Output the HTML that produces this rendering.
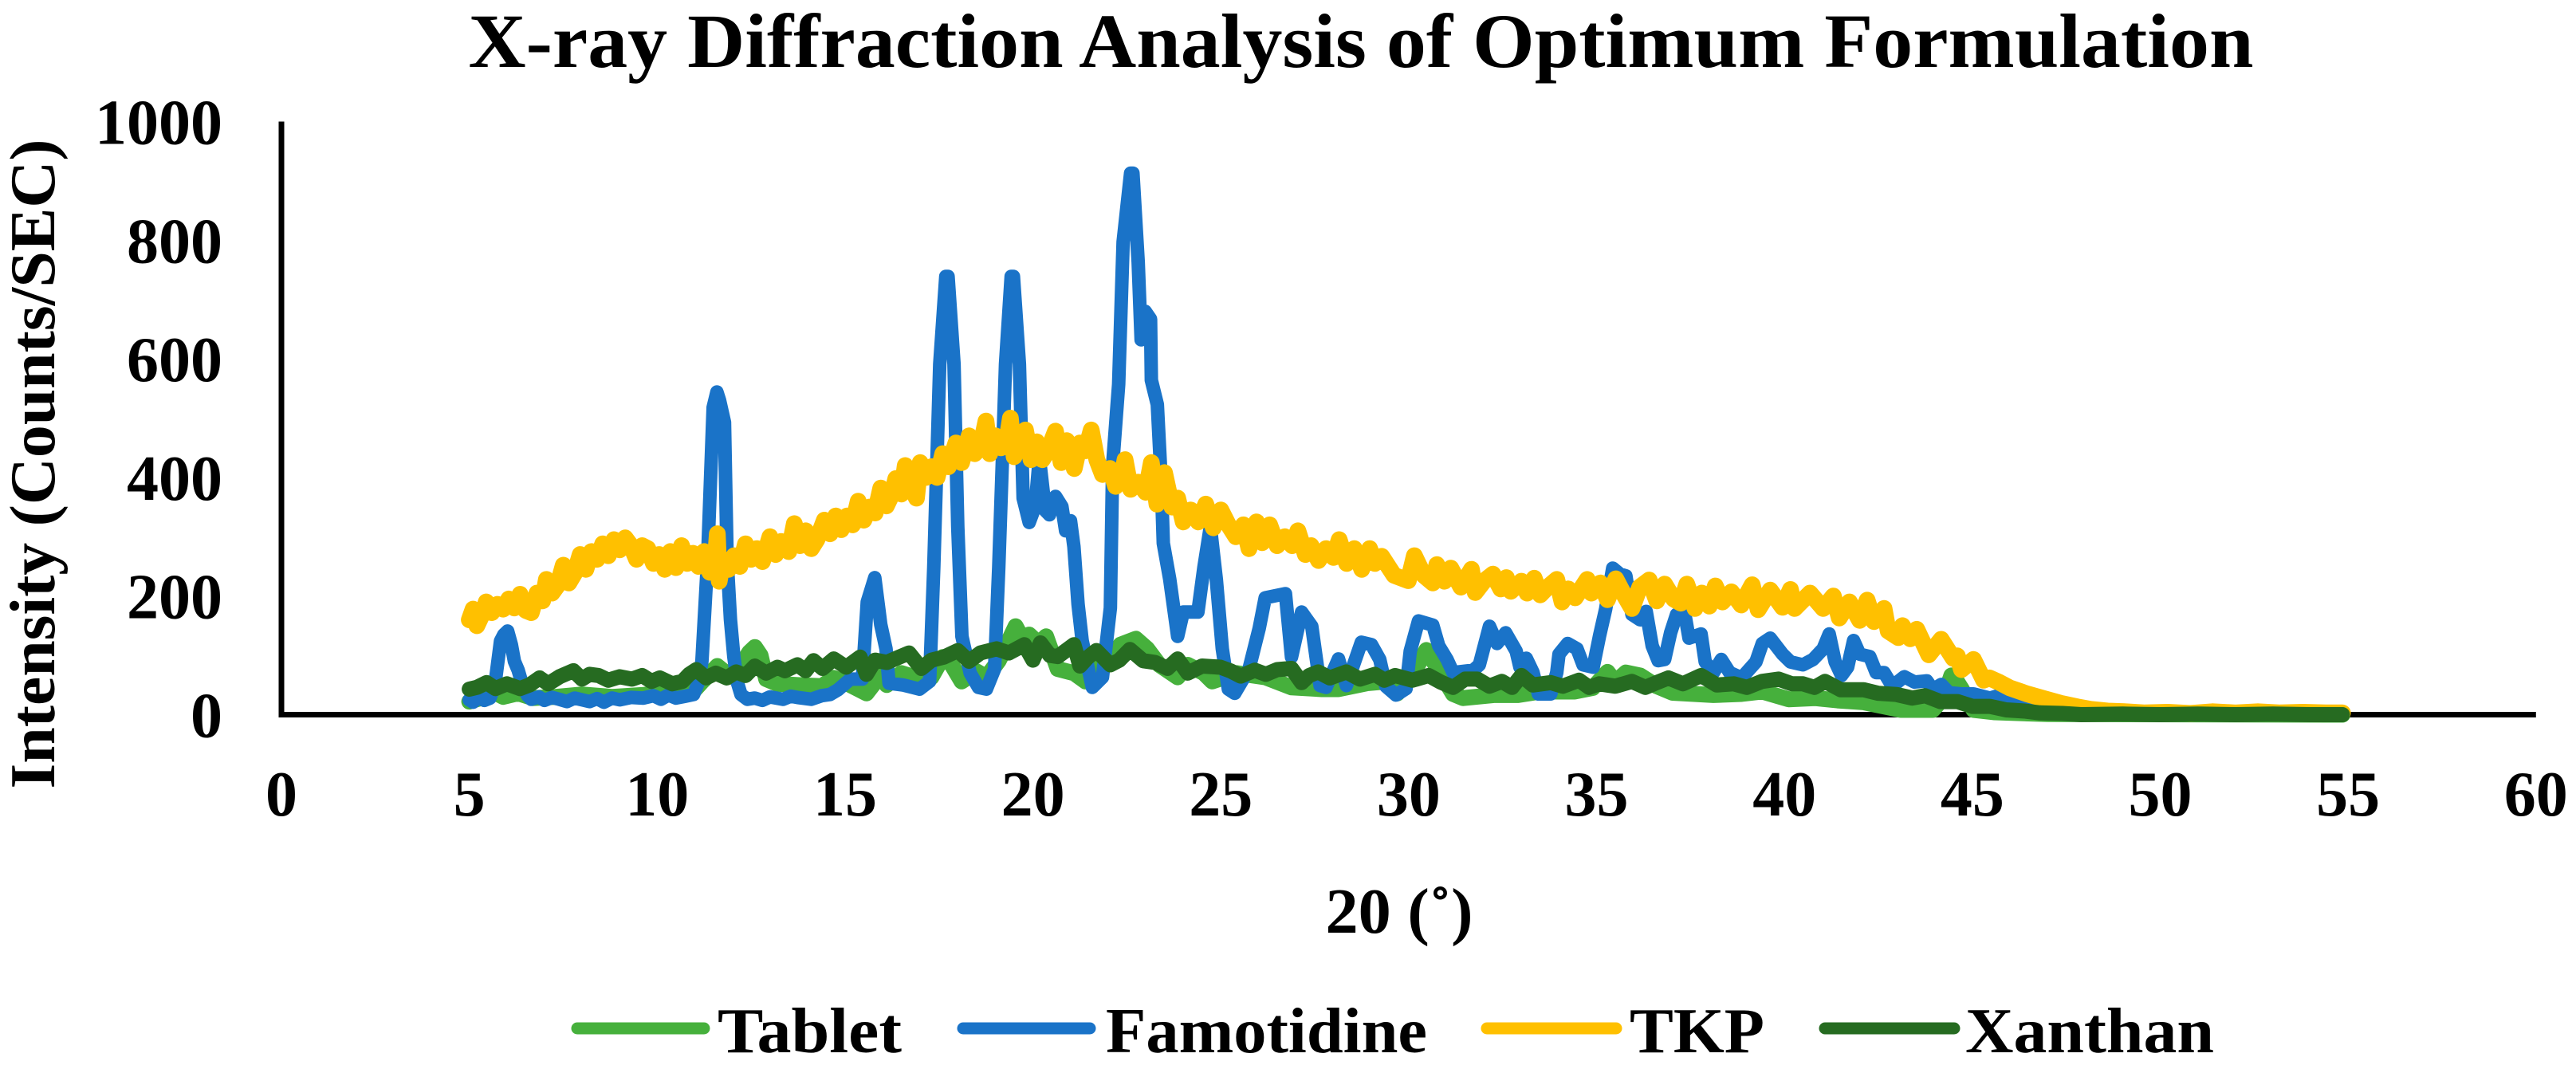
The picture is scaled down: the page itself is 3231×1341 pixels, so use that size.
<!DOCTYPE html>
<html lang="en">
<head>
<meta charset="utf-8">
<title>X-ray Diffraction Analysis of Optimum Formulation</title>
<style>
html,body{margin:0;padding:0;background:#fff;width:3231px;height:1341px;overflow:hidden}
svg{display:block}
text{font-family:"Liberation Serif","Times New Roman",serif;font-weight:bold;fill:#000}
</style>
</head>
<body>
<svg id="chart" xmlns="http://www.w3.org/2000/svg" width="3231" height="1341" viewBox="0 0 3231 1341">
  <rect width="3231" height="1341" fill="#fff"/>
  <text x="1707" y="84" font-size="96" text-anchor="middle" textLength="2239" lengthAdjust="spacingAndGlyphs">X-ray Diffraction Analysis of Optimum Formulation</text>
  <text transform="translate(68,582) rotate(-90)" font-size="80" text-anchor="middle" textLength="815" lengthAdjust="spacingAndGlyphs">Intensity (Counts/SEC)</text>
  <text x="1755" y="1170" font-size="80" text-anchor="middle" textLength="185" lengthAdjust="spacingAndGlyphs">20 (˚)</text>
  <g id="ticks"></g>
  <g id="series"></g>
  <g id="axes"></g>
  <g>
    <g>
      <line x1="724" x2="883" y1="1290" y2="1290" stroke="#46B03C" stroke-width="15" stroke-linecap="round"/>
      <text x="900" y="1320" font-size="80" textLength="231" lengthAdjust="spacingAndGlyphs">Tablet</text>
    </g>
    <g>
      <line x1="1208" x2="1367" y1="1290" y2="1290" stroke="#1A73C8" stroke-width="15" stroke-linecap="round"/>
      <text x="1387" y="1320" font-size="80" textLength="403" lengthAdjust="spacingAndGlyphs">Famotidine</text>
    </g>
    <g>
      <line x1="1865" x2="2027" y1="1290" y2="1290" stroke="#FFC000" stroke-width="15" stroke-linecap="round"/>
      <text x="2044" y="1320" font-size="80" textLength="169" lengthAdjust="spacingAndGlyphs">TKP</text>
    </g>
    <g>
      <line x1="2289" x2="2451" y1="1290" y2="1290" stroke="#266B21" stroke-width="15" stroke-linecap="round"/>
      <text x="2465" y="1320" font-size="80" textLength="312" lengthAdjust="spacingAndGlyphs">Xanthan</text>
    </g>
  </g>
</svg>
<script>
const xTickLabels = [0,5,10,15,20,25,30,35,40,45,50,55,60];
const yTickLabels = [0,200,400,600,800,1000];

// Each entry is [2-theta in degrees, intensity in counts/sec]
const tablet = [[5,22],[5.3,28],[5.6,40],[5.9,30],[6.3,36],[6.7,28],[7.3,30],[8,34],[8.8,30],[9.6,33],[10.3,38],[10.97,40],[11.2,56],[11.6,82],[11.95,64],[12.2,80],[12.45,105],[12.6,114],[12.75,100],[12.9,60],[13.2,52],[13.73,50],[14.38,48],[14.7,62],[15.14,50],[15.57,36],[15.8,55],[16,77],[16.11,50],[16.5,70],[16.9,62],[17.3,63],[17.6,97],[17.84,84],[18.1,56],[18.5,73],[18.76,63],[19.09,91],[19.36,125],[19.54,149],[19.7,130],[19.9,135],[20.15,120],[20.35,132],[20.66,77],[21.09,70],[21.4,56],[21.69,77],[22.06,91],[22.33,118],[22.74,128],[23.04,111],[23.36,84],[23.85,63],[24.12,84],[24.55,70],[24.77,56],[25.42,70],[26.18,63],[26.88,46],[27.69,43],[28.13,43],[28.89,53],[29.43,56],[29.7,36],[30.18,77],[30.47,109],[30.8,75],[31.18,35],[31.45,28],[32.26,33],[32.91,33],[33.5,39],[34.42,39],[34.9,45],[35.29,72],[35.5,55],[35.78,71],[36.16,66],[36.6,48],[37.02,37],[38.11,33],[38.86,35],[39.41,39],[40.11,26],[40.81,28],[41.41,24],[42.11,21],[43.09,8],[43.95,8],[44.25,30],[44.44,66],[44.6,55],[44.71,44],[45.03,8],[45.6,4],[47,1],[54.85,0]];

const famotidine = [[5,25],[5.1,21],[5.25,30],[5.4,24],[5.55,28],[5.68,50],[5.83,124],[5.92,135],[6.02,141],[6.12,118],[6.2,90],[6.3,75],[6.43,47],[6.55,32],[6.65,26],[6.85,30],[7,24],[7.2,29],[7.39,26],[7.6,22],[7.8,28],[8,25],[8.2,22],[8.4,27],[8.58,21],[8.8,28],[9,25],[9.3,29],[9.63,28],[9.9,32],[10.1,26],[10.3,33],[10.5,28],[10.75,31],[10.97,34],[11.1,55],[11.19,90],[11.34,261],[11.49,518],[11.59,544],[11.66,530],[11.79,493],[11.86,261],[11.95,160],[12.04,98],[12.13,55],[12.23,34],[12.4,26],[12.6,28],[12.8,24],[13,30],[13.35,26],[13.55,31],[13.73,29],[14.1,26],[14.38,32],[14.6,34],[14.81,42],[15.14,60],[15.46,60],[15.59,190],[15.79,231],[15.95,152],[16.09,111],[16.17,53],[16.54,50],[16.98,43],[17.25,56],[17.36,248],[17.52,591],[17.68,739],[17.74,739],[17.9,591],[18,317],[18.11,132],[18.33,70],[18.55,46],[18.76,43],[18.98,77],[19.09,248],[19.2,454],[19.27,591],[19.42,739],[19.48,739],[19.64,591],[19.74,365],[19.9,324],[20.06,351],[20.17,433],[20.33,344],[20.44,337],[20.6,368],[20.77,351],[20.87,310],[21,327],[21.09,283],[21.2,186],[21.31,125],[21.58,46],[21.85,63],[22.06,180],[22.12,420],[22.28,557],[22.4,797],[22.6,913],[22.66,913],[22.8,763],[22.88,632],[22.99,680],[23.13,667],[23.15,564],[23.31,523],[23.42,385],[23.47,289],[23.64,228],[23.85,132],[24,173],[24.39,173],[24.55,248],[24.72,317],[24.88,228],[25.04,111],[25.2,43],[25.37,36],[25.75,77],[26.02,145],[26.18,197],[26.72,204],[26.88,97],[27.15,173],[27.42,149],[27.64,49],[27.8,46],[28.13,94],[28.34,49],[28.74,122],[29.01,118],[29.23,93],[29.39,48],[29.66,33],[29.93,44],[30.04,107],[30.26,158],[30.64,151],[30.8,116],[31.02,93],[31.18,71],[31.72,75],[31.88,84],[32.15,149],[32.35,120],[32.58,138],[32.86,107],[32.96,80],[33.13,95],[33.31,71],[33.45,35],[33.78,35],[33.94,71],[34,102],[34.23,120],[34.48,111],[34.64,84],[34.91,80],[35.08,133],[35.24,178],[35.43,247],[35.62,237],[35.78,234],[35.94,169],[36.16,160],[36.32,174],[36.48,116],[36.64,91],[36.81,93],[36.97,138],[37.13,169],[37.35,169],[37.46,129],[37.78,136],[37.89,89],[38.11,71],[38.32,93],[38.54,71],[38.86,62],[39.24,89],[39.41,120],[39.62,129],[39.95,102],[40.16,89],[40.49,84],[40.76,93],[41.03,111],[41.19,136],[41.35,89],[41.52,66],[41.68,80],[41.84,125],[42,102],[42.27,98],[42.44,71],[42.65,71],[42.87,48],[43.19,64],[43.46,55],[43.79,57],[43.95,42],[44.17,51],[44.38,37],[44.71,35],[45.03,35],[45.47,28],[45.68,32],[46.13,17],[46.8,8],[47.9,1],[49,2],[50,1],[51,2],[52,1],[53,2],[54,1],[54.85,1]];

const tkp = [[5,160],[5.1,178],[5.2,150],[5.35,170],[5.45,190],[5.6,172],[5.75,186],[5.9,178],[6.05,195],[6.2,180],[6.35,203],[6.5,176],[6.65,172],[6.8,205],[6.95,192],[7.05,228],[7.2,205],[7.35,218],[7.5,252],[7.65,222],[7.8,238],[7.95,270],[8.1,245],[8.25,275],[8.4,262],[8.55,288],[8.7,268],[8.85,295],[9,278],[9.15,298],[9.3,285],[9.45,262],[9.6,285],[9.75,280],[9.9,255],[10.05,270],[10.2,245],[10.35,275],[10.5,248],[10.65,285],[10.8,255],[10.95,272],[11.1,250],[11.25,275],[11.4,240],[11.55,262],[11.6,305],[11.65,225],[11.75,262],[11.9,245],[12.05,268],[12.2,250],[12.35,288],[12.5,262],[12.65,280],[12.8,258],[13,300],[13.15,270],[13.3,292],[13.5,275],[13.65,322],[13.8,285],[13.95,310],[14.1,280],[14.25,295],[14.45,328],[14.6,305],[14.75,335],[14.9,312],[15.05,335],[15.2,320],[15.35,360],[15.5,328],[15.65,350],[15.8,340],[15.95,382],[16.1,352],[16.25,372],[16.35,398],[16.5,372],[16.6,420],[16.75,385],[16.9,365],[17,425],[17.15,400],[17.3,418],[17.45,400],[17.6,440],[17.75,418],[17.95,458],[18.1,425],[18.3,470],[18.45,440],[18.6,450],[18.75,495],[18.85,440],[19,470],[19.15,450],[19.3,460],[19.4,500],[19.5,435],[19.65,465],[19.8,480],[19.95,430],[20.1,460],[20.25,430],[20.4,445],[20.6,478],[20.75,425],[20.9,462],[21.1,415],[21.25,458],[21.4,445],[21.55,480],[21.7,430],[21.85,405],[22.05,415],[22.2,385],[22.35,395],[22.45,430],[22.6,380],[22.8,392],[23,375],[23.15,425],[23.3,355],[23.5,408],[23.7,350],[23.85,365],[24,325],[24.2,345],[24.4,325],[24.6,355],[24.8,315],[25,345],[25.2,320],[25.4,300],[25.6,320],[25.75,280],[25.95,325],[26.1,290],[26.3,320],[26.5,285],[26.7,300],[26.9,285],[27.05,310],[27.25,270],[27.4,285],[27.6,260],[27.8,280],[28,265],[28.15,295],[28.35,255],[28.55,280],[28.75,245],[28.96,280],[29.1,255],[29.28,267],[29.61,235],[29.99,226],[30.15,268],[30.4,235],[30.64,222],[30.75,253],[30.95,225],[31.12,247],[31.39,215],[31.67,245],[31.77,206],[32,225],[32.24,237],[32.45,212],[32.6,231],[32.72,208],[33,225],[33.15,205],[33.34,230],[33.5,202],[33.7,215],[33.94,228],[34.08,190],[34.25,212],[34.43,197],[34.75,228],[34.86,205],[35.1,222],[35.29,194],[35.51,229],[35.75,200],[35.94,179],[36.15,215],[36.4,227],[36.6,192],[36.81,220],[37.05,195],[37.24,188],[37.4,220],[37.62,179],[37.8,205],[38,183],[38.16,217],[38.35,190],[38.59,207],[38.85,185],[39.14,219],[39.3,177],[39.62,210],[39.95,181],[40.16,211],[40.27,179],[40.68,205],[41.03,179],[41.3,200],[41.46,163],[41.73,190],[42,159],[42.2,193],[42.38,157],[42.65,179],[42.76,141],[43.03,130],[43.14,150],[43.35,128],[43.52,144],[43.84,101],[44.17,127],[44.49,95],[44.6,99],[44.71,76],[45.03,93],[45.3,58],[45.45,62],[45.7,55],[46,45],[46.46,35],[46.9,27],[47.36,19],[47.8,13],[48.15,9],[48.6,6],[49.05,5],[49.6,3],[50.2,4],[50.8,2],[51.4,5],[52,3],[52.6,5],[53.2,3],[53.8,4],[54.4,3],[54.85,3]];

const xanthan = [[5,43],[5.2,46],[5.46,54],[5.7,44],[6,52],[6.35,44],[6.6,50],[6.87,62],[7.1,52],[7.4,64],[7.77,74],[8,60],[8.2,68],[8.44,66],[8.7,58],[9,64],[9.33,60],[9.6,66],[9.85,56],[10.07,62],[10.4,52],[10.67,56],[10.85,68],[11.04,76],[11.3,62],[11.56,70],[11.85,62],[12.1,72],[12.35,66],[12.6,82],[12.9,70],[13.2,80],[13.4,74],[13.73,84],[13.95,74],[14.16,91],[14.4,78],[14.7,94],[15.03,80],[15.4,97],[15.57,68],[15.8,92],[16.11,88],[16.4,96],[16.7,104],[17.03,78],[17.3,92],[17.63,97],[18,108],[18.3,90],[18.6,104],[19.03,111],[19.36,104],[19.77,118],[20,92],[20.2,121],[20.45,100],[20.66,98],[21.09,118],[21.25,82],[21.45,96],[21.69,108],[22.06,84],[22.3,92],[22.58,110],[22.93,91],[23.25,88],[23.58,78],[23.85,94],[24.12,70],[24.5,82],[24.99,80],[25.25,74],[25.53,65],[25.9,75],[26.2,68],[26.5,76],[26.88,78],[27.15,54],[27.35,66],[27.59,72],[27.9,62],[28.34,72],[28.7,60],[29.1,68],[29.35,58],[29.64,66],[30.1,58],[30.53,66],[30.85,55],[31.18,46],[31.5,60],[31.83,60],[32.15,48],[32.48,56],[32.75,46],[33,66],[33.3,50],[33.78,54],[34.1,48],[34.53,58],[34.8,46],[35.07,52],[35.5,48],[35.94,56],[36.3,46],[36.6,54],[36.91,62],[37.3,52],[37.78,66],[38.2,50],[38.65,52],[39,46],[39.4,56],[39.84,60],[40.2,52],[40.49,52],[40.8,46],[41.08,56],[41.5,42],[42.11,42],[42.5,36],[42.98,34],[43.4,28],[43.74,32],[44.15,22],[44.6,22],[45,14],[45.47,14],[45.9,8],[46.4,6],[46.8,3],[47.4,2],[47.9,0],[49,1],[50,0],[51,1],[52,0],[53,1],[54,0],[54.85,0]];

const seriesColors = {tablet:"#46B03C",famotidine:"#1A73C8",tkp:"#FFC000",xanthan:"#266B21"};

function xScale(angle){return 353+angle*47.13;}
function yScale(count){return 896.5-count*0.744;}

const SVGNS="http://www.w3.org/2000/svg";
const ticks=document.getElementById("ticks");
const seriesGroup=document.getElementById("series");
const axes=document.getElementById("axes");

xTickLabels.forEach(function(v){
  const t=document.createElementNS(SVGNS,"text");
  
  
  t.setAttribute("x",xScale(v));
  t.setAttribute("y",1023);
  t.setAttribute("font-size","80");
  t.setAttribute("text-anchor","middle");
  t.textContent=v;
  ticks.appendChild(t);
});
yTickLabels.forEach(function(v){
  const t=document.createElementNS(SVGNS,"text");
  
  
  t.setAttribute("x",279);
  t.setAttribute("y",yScale(v)+28);
  t.setAttribute("font-size","80");
  t.setAttribute("text-anchor","end");
  t.textContent=v;
  ticks.appendChild(t);
});

function drawSeries(points,color,width){
  const p=document.createElementNS(SVGNS,"polyline");
  p.setAttribute("points",points.map(function(d){return xScale(d[0]).toFixed(1)+","+yScale(d[1]).toFixed(1);}).join(" "));
  p.setAttribute("fill","none");
  p.setAttribute("stroke",color);
  p.setAttribute("stroke-width",width);
  p.setAttribute("stroke-linejoin","round");
  p.setAttribute("stroke-linecap","round");
  seriesGroup.appendChild(p);
  return p;
}
const tabletLine=drawSeries(tablet,seriesColors.tablet,20);


const famotidineLine=drawSeries(famotidine,seriesColors.famotidine,17);


const tkpLine=drawSeries(tkp,seriesColors.tkp,21);


const xanthanLine=drawSeries(xanthan,seriesColors.xanthan,19);



const yAxis=document.createElementNS(SVGNS,"line");


yAxis.setAttribute("x1",xScale(0));
yAxis.setAttribute("x2",xScale(0));
yAxis.setAttribute("y1",yScale(1000));
yAxis.setAttribute("y2",yScale(0)+3.5);
yAxis.setAttribute("stroke","#000");
yAxis.setAttribute("stroke-width","7");
axes.appendChild(yAxis);
const xAxis=document.createElementNS(SVGNS,"line");


xAxis.setAttribute("x1",xScale(0)-3.5);
xAxis.setAttribute("x2",xScale(60));
xAxis.setAttribute("y1",yScale(0));
xAxis.setAttribute("y2",yScale(0));
xAxis.setAttribute("stroke","#000");
xAxis.setAttribute("stroke-width","7");
axes.insertBefore(xAxis,axes.firstChild);
seriesGroup.parentNode.insertBefore(axes,seriesGroup);
</script>
</body>
</html>
